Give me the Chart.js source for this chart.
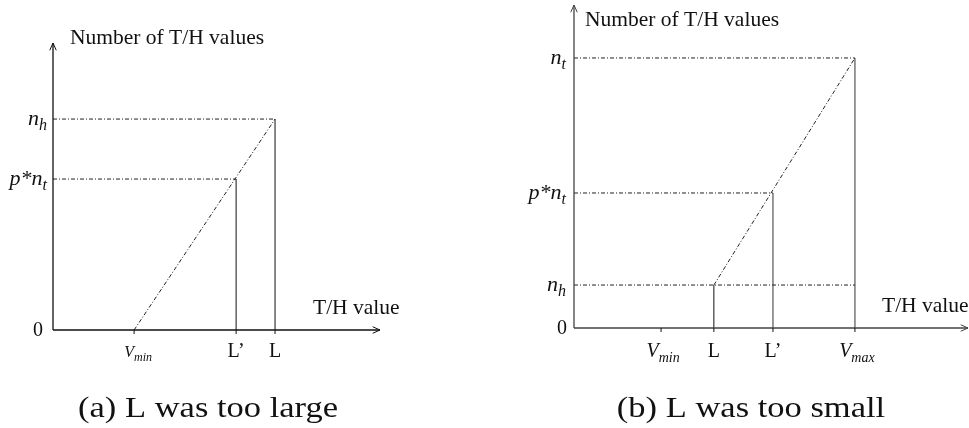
<!DOCTYPE html>
<html>
<head>
<meta charset="utf-8">
<script src="https://cdn.jsdelivr.net/npm/chart.js@4/dist/chart.umd.min.js"></script>
<style>
  html, body { margin: 0; padding: 0; background: #fff; }
  #wrap { position: relative; width: 969px; height: 428px; overflow: hidden; }
  canvas { position: absolute; top: 0; }
  #ca { left: 0; }
  #cb { left: 484px; }
</style>
</head>
<body>
<div id="wrap">
  <canvas id="ca" width="484" height="428"></canvas>
  <canvas id="cb" width="485" height="428"></canvas>
</div>
<script>
// ---- Panel (a): L was too large ----
const aXNames = ['V|min', "L’", 'L'];
const aXValues = [2.48, 5.6, 6.79];
const aYNames = ['n|h', 'p*n|t'];
const aYValues = [7.35, 5.26];
const aCaption = '(a) L was too large';

// ---- Panel (b): L was too small ----
const bXNames = ['V|min', 'L', "L’", 'V|max'];
const bXValues = [2.21, 3.55, 5.05, 7.13];
const bYNames = ['n|t', 'p*n|t', 'n|h'];
const bYValues = [8.36, 4.18, 1.33];
const bCaption = '(b) L was too small';

const yTitle = 'Number of T/H values';
const xTitle = 'T/H value';

const SERIF = '"Liberation Serif", "Times New Roman", serif';
const DASHDOT = [4, 2, 1, 2];

function seg(p, q, dashed, color, width) {
  return {
    data: [p, q],
    showLine: true,
    pointRadius: 0,
    borderColor: color || '#111',
    borderWidth: width || 1,
    borderDash: dashed ? DASHDOT : [],
    clip: false,
    tension: 0
  };
}

// label "main|sub": italic main with a smaller italic subscript
function labelWidth(ctx, text, size) {
  const [main, sub] = text.split('|');
  ctx.font = 'italic ' + size + 'px ' + SERIF;
  let w = ctx.measureText(main).width;
  if (sub) {
    ctx.font = 'italic ' + Math.round(size * 0.72) + 'px ' + SERIF;
    w += ctx.measureText(sub).width;
  }
  return w;
}
function drawLabel(ctx, text, x, y, size, align, italic) {
  const [main, sub] = text.split('|');
  const w = sub ? labelWidth(ctx, text, size) : (ctx.font = (italic ? 'italic ' : '') + size + 'px ' + SERIF, ctx.measureText(main).width);
  let x0 = align === 'center' ? x - w / 2 : align === 'right' ? x - w : x;
  ctx.textAlign = 'left';
  ctx.textBaseline = 'alphabetic';
  ctx.fillStyle = '#111';
  ctx.font = (italic || sub ? 'italic ' : '') + size + 'px ' + SERIF;
  ctx.fillText(main, x0, y);
  if (sub) {
    const mw = ctx.measureText(main).width;
    ctx.font = 'italic ' + Math.round(size * 0.72) + 'px ' + SERIF;
    ctx.fillText(sub, x0 + mw, y + size * 0.24);
  }
}

function arrowHead(ctx, x, y, dx, dy) {
  const len = 8, ang = 0.42;
  const a = Math.atan2(dy, dx);
  ctx.beginPath();
  ctx.moveTo(x - len * Math.cos(a - ang), y - len * Math.sin(a - ang));
  ctx.lineTo(x, y);
  ctx.lineTo(x - len * Math.cos(a + ang), y - len * Math.sin(a + ang));
  ctx.stroke();
}

// axes, arrows, ticks and all text drawn against the chart's own scales
function axesPlugin(cfg) {
  return {
    id: 'axesDecor',
    afterDatasetsDraw(chart) {
      const ctx = chart.ctx;
      const xs = chart.scales.x, ys = chart.scales.y;
      const x0 = xs.getPixelForValue(0), y0 = ys.getPixelForValue(0);
      const xEnd = xs.getPixelForValue(xs.max), yEnd = ys.getPixelForValue(ys.max);
      ctx.save();
      ctx.strokeStyle = cfg.axisColor;
      ctx.lineWidth = 1.3;
      ctx.setLineDash([]);
      ctx.beginPath();
      ctx.moveTo(x0, y0); ctx.lineTo(xEnd, y0);
      ctx.moveTo(x0, y0); ctx.lineTo(x0, yEnd);
      ctx.stroke();
      ctx.lineWidth = 1;
      arrowHead(ctx, xEnd, y0, 1, 0);
      arrowHead(ctx, x0, yEnd, 0, -1);
      // small ticks under the axis
      ctx.strokeStyle = '#111';
      cfg.xValues.forEach(v => {
        const px = xs.getPixelForValue(v);
        ctx.beginPath(); ctx.moveTo(px, y0); ctx.lineTo(px, y0 + 4); ctx.stroke();
      });
      // x labels
      cfg.xNames.forEach((n, i) => {
        const px = xs.getPixelForValue(cfg.xValues[i]);
        const isV = n.indexOf('|') >= 0;
        drawLabel(ctx, n, px + (isV ? cfg.vShift : 0), cfg.xLabelY, isV ? cfg.vSize : 20, 'center', false);
      });
      // y labels
      cfg.yNames.forEach((n, i) => {
        const py = ys.getPixelForValue(cfg.yValues[i]);
        drawLabel(ctx, n, x0 - cfg.yLabelGap, py + 6, 22, 'right', true);
      });
      drawLabel(ctx, '0', x0 - cfg.zeroGap, y0 + 6, 20, 'right', false);
      // axis titles
      drawLabel(ctx, yTitle, cfg.yTitleX, cfg.yTitleY, 21.5, 'left', false);
      drawLabel(ctx, xTitle, cfg.xTitleX, cfg.xTitleY, 21.5, 'left', false);
      // caption, set in a slightly widened serif
      ctx.font = '30px ' + SERIF;
      ctx.fillStyle = '#111';
      ctx.textAlign = 'center';
      ctx.translate(cfg.captionX, 417);
      ctx.scale(1.15, 1);
      ctx.fillText(cfg.caption, 0, 0);
      ctx.restore();
    }
  };
}

function makeChart(id, datasets, pad, cfg) {
  return new Chart(document.getElementById(id), {
    type: 'scatter',
    data: { datasets },
    options: {
      responsive: false,
      animation: false,
      devicePixelRatio: 1,
      layout: { padding: pad },
      scales: {
        x: { type: 'linear', min: 0, max: 10, display: false },
        y: { type: 'linear', min: 0, max: 10, display: false }
      },
      plugins: { legend: { display: false }, tooltip: { enabled: false } },
      events: []
    },
    plugins: [axesPlugin(cfg)]
  });
}

// panel (a) marks
const [aVmin, aLp, aL] = aXValues;
const [aNh, aPnt] = aYValues;
const aSets = [
  seg({x: 0, y: aNh}, {x: aL, y: aNh}, true, '#222'),
  seg({x: 0, y: aPnt}, {x: aLp, y: aPnt}, true, '#222'),
  seg({x: aVmin, y: 0}, {x: aL, y: aNh}, true, '#222'),
  seg({x: aLp, y: 0}, {x: aLp, y: aPnt}, false, '#111'),
  seg({x: aL, y: 0}, {x: aL, y: aNh}, false, '#111')
];
makeChart('ca', aSets, { left: 53, right: 104, top: 43, bottom: 98 }, {
  xNames: aXNames, xValues: aXValues, yNames: aYNames, yValues: aYValues,
  axisColor: '#111', vSize: 16, vShift: 4, xLabelY: 357, yLabelGap: 6, zeroGap: 10,
  yTitleX: 70, yTitleY: 44, xTitleX: 313, xTitleY: 314,
  caption: aCaption, captionX: 208
});

// panel (b) marks
const [bVmin, bL, bLp, bVmax] = bXValues;
const [bNt, bPnt, bNh] = bYValues;
const bSets = [
  seg({x: 0, y: bNt}, {x: bVmax, y: bNt}, true, '#222'),
  seg({x: 0, y: bPnt}, {x: bLp, y: bPnt}, true, '#222'),
  seg({x: 0, y: bNh}, {x: bVmax, y: bNh}, true, '#222'),
  seg({x: bL, y: bNh}, {x: bVmax, y: bNt}, true, '#222'),
  seg({x: bL, y: 0}, {x: bL, y: bNh}, false, '#111'),
  seg({x: bLp, y: 0}, {x: bLp, y: bPnt}, false, '#333'),
  seg({x: bVmax, y: 0}, {x: bVmax, y: bNt}, false, '#777', 1.5)
];
makeChart('cb', bSets, { left: 90, right: 1, top: 5, bottom: 100 }, {
  xNames: bXNames, xValues: bXValues, yNames: bYNames, yValues: bYValues,
  axisColor: '#444', vSize: 20, vShift: 2, xLabelY: 357, yLabelGap: 8, zeroGap: 7,
  yTitleX: 101, yTitleY: 26, xTitleX: 398, xTitleY: 312,
  caption: bCaption, captionX: 267
});
</script>
</body>
</html>
